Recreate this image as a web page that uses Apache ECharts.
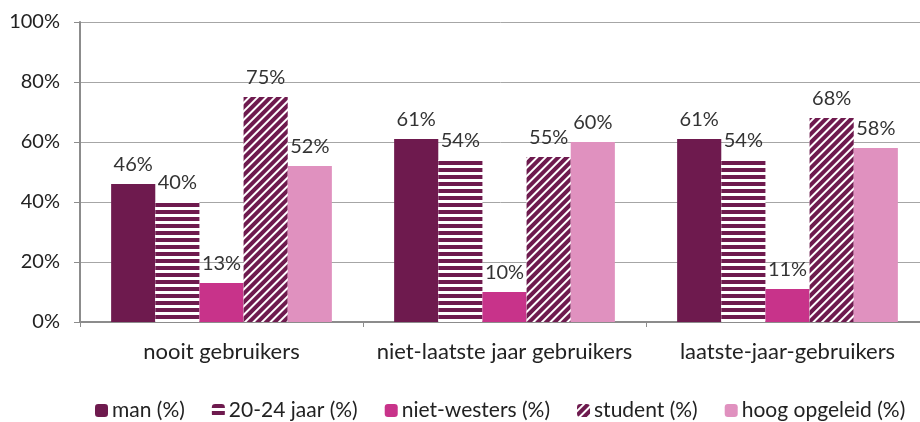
<!DOCTYPE html>
<html>
<head>
<meta charset="utf-8">
<script src="https://cdn.jsdelivr.net/npm/echarts@6/dist/echarts.min.js"></script>
<style>
  html, body { margin: 0; padding: 0; background: #fff; }
  #chart { width: 920px; height: 422px; }
</style>
</head>
<body>
<div id="chart"></div>
<script>
const categories = ["nooit gebruikers", "niet-laatste jaar gebruikers", "laatste-jaar-gebruikers"];
const seriesNames = ["man (%)", "20-24 jaar (%)", "niet-westers (%)", "student (%)", "hoog opgeleid (%)"];
const man = [46, 61, 61];
const jaar2024 = [40, 54, 54];
const nietWesters = [13, 10, 11];
const student = [75, 55, 68];
const hoogOpgeleid = [52, 60, 58];
const yTicks = [0, 20, 40, 60, 80, 100];

const dark = "#6E1A4E";
const font = "Lato";

const label = {
  show: true,
  position: "top",
  distance: 9,
  formatter: "{c}%",
  color: "#333",
  fontSize: 20,
  fontFamily: font,
};

function bar(name, data, itemStyle) {
  return {
    name: name,
    type: "bar",
    data: data,
    barGap: "0%",
    barCategoryGap: "22%",
    itemStyle: itemStyle,
    label: label,
  };
}

const chart = echarts.init(document.getElementById("chart"));
chart.setOption({
  animation: false,
  grid: { left: 80, top: 22, width: 849, height: 300, outerBoundsMode: "none" },
  legend: {
    top: 400,
    left: 95,
    padding: 0,
    itemWidth: 13,
    itemHeight: 13,
    itemGap: 27,
    textStyle: { fontSize: 21, color: "#222", fontFamily: font, padding: [0, 0, 0, -1] },
    data: seriesNames,
  },
  xAxis: {
    type: "category",
    data: categories,
    axisLine: { lineStyle: { color: "#8c8c8c", width: 2 } },
    axisTick: { show: true, length: 5, lineStyle: { color: "#8c8c8c" } },
    axisLabel: { interval: 0, fontSize: 22, color: "#222", fontFamily: font, margin: 19 },
  },
  yAxis: {
    type: "value",
    min: yTicks[0],
    max: yTicks[yTicks.length - 1],
    interval: 20,
    axisLine: { show: true, lineStyle: { color: "#8c8c8c", width: 2 } },
    axisTick: { show: true, length: 6, lineStyle: { color: "#8c8c8c" } },
    axisLabel: { formatter: "{value}%", fontSize: 20, color: "#222", fontFamily: font, margin: 20 },
    splitLine: { lineStyle: { color: "#a6a6a6" } },
  },
  series: [
    bar(seriesNames[0], man, { color: dark }),
    bar(seriesNames[1], jaar2024, {
      color: "#fff",
      decal: { symbol: "rect", color: dark, dashArrayX: [1, 0], dashArrayY: [4, 3], symbolSize: 1, rotation: 0 },
    }),
    bar(seriesNames[2], nietWesters, { color: "#C8338A" }),
    bar(seriesNames[3], student, {
      color: "#fff",
      decal: { symbol: "rect", color: dark, dashArrayX: [1, 0], dashArrayY: [4, 2], symbolSize: 1, rotation: -Math.PI / 4 },
    }),
    bar(seriesNames[4], hoogOpgeleid, { color: "#E091BF" }),
  ],
});
</script>
</body>
</html>
